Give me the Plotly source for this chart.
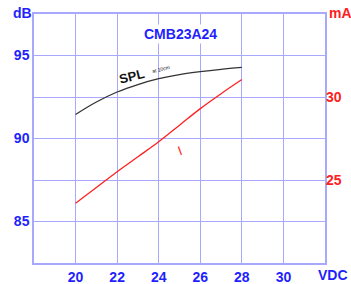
import plotly.graph_objects as go

volts = [20, 21, 22, 23, 24, 25, 26, 27, 28]
spl_db = [91.45, 92.2, 92.8, 93.25, 93.6, 93.85, 94.03, 94.17, 94.28]
current_ma = [23.6, 24.55, 25.5, 26.4, 27.3, 28.3, 29.3, 30.2, 31.05]

x_ticks = [20, 22, 24, 26, 28, 30]
db_ticks = [85, 87.5, 90, 92.5, 95]
db_text = ["85", "", "90", "", "95"]
ma_ticks = [25, 30]

BLUE = "#1f1fff"
RED = "#ff2020"
GRID = "#a8a8ff"
FONT = "Liberation Sans"

fig = go.Figure()
fig.add_trace(go.Scatter(x=volts, y=spl_db, mode="lines", line=dict(color="#333333", width=1.3, shape="spline"),
                         showlegend=False, hoverinfo="skip"))
fig.add_trace(go.Scatter(x=volts, y=current_ma, mode="lines", yaxis="y2",
                         line=dict(color=RED, width=1.3, shape="spline"), showlegend=False, hoverinfo="skip"))

fig.update_layout(
    width=351, height=284,
    margin=dict(l=34, r=26, t=14, b=21, autoexpand=False),
    paper_bgcolor="white", plot_bgcolor="white",
    xaxis=dict(range=[18, 32], tickvals=x_ticks, showgrid=True, gridcolor=GRID, gridwidth=1,
               showline=True, linecolor=GRID, linewidth=1.5, mirror=True, zeroline=False, automargin=False,
               tickfont=dict(family=FONT, size=14, color=BLUE, weight="bold"), ticks=""),
    yaxis=dict(range=[82.5, 97.5], tickvals=db_ticks, ticktext=db_text, showgrid=True, gridcolor=GRID,
               gridwidth=1, showline=True, linecolor=GRID, linewidth=1.5, mirror=True, zeroline=False,
               automargin=False,
               tickfont=dict(family=FONT, size=14, color=BLUE, weight="bold"), ticks=""),
    yaxis2=dict(range=[20, 35], tickvals=ma_ticks, overlaying="y", side="right", showgrid=False,
                zeroline=False, showline=False, automargin=False,
                tickfont=dict(family=FONT, size=14, color=RED, weight="bold"), ticks=""),
    annotations=[
        dict(text="<b>dB</b>", x=22, y=13, showarrow=False, font=dict(family=FONT, size=14, color=BLUE)),
        dict(text="<b>mA</b>", x=340, y=13, showarrow=False, font=dict(family=FONT, size=14, color=RED)),
        dict(text="<b>VDC</b>", x=333, y=275, showarrow=False, font=dict(family=FONT, size=14, color=BLUE)),
        dict(text="<b>CMB23A24</b>", x=180, y=34, showarrow=False, bgcolor="white",
             font=dict(family=FONT, size=14, color=BLUE)),
        dict(text="<b>SPL</b>", x=131, y=76, showarrow=False, textangle=-14,
             font=dict(family=FONT, size=13, color="#111111")),
        dict(text="at 10cm", x=161, y=69, showarrow=False, textangle=-14,
             font=dict(family=FONT, size=5, color="#111111")),
        dict(text="I", x=180, y=150, showarrow=False, textangle=-20,
             font=dict(family=FONT, size=13, color=RED)),
    ],
)

# convert pixel-positioned annotations to paper coords
W, H = 351, 284
l, r, t, b = 34, 26, 14, 21
pw, ph = W - l - r, H - t - b
new = []
for a in fig.layout.annotations:
    px, py = a.x, a.y
    a.x = (px - l) / pw
    a.y = 1 - (py - t) / ph
    a.xref = "paper"
    a.yref = "paper"
    a.xanchor = "center"
    a.yanchor = "middle"
    new.append(a)
fig.layout.annotations = new

fig.write_html("out.html", config={"displayModeBar": False},
               post_script="document.body.style.margin='0';document.body.style.overflow='hidden';")
